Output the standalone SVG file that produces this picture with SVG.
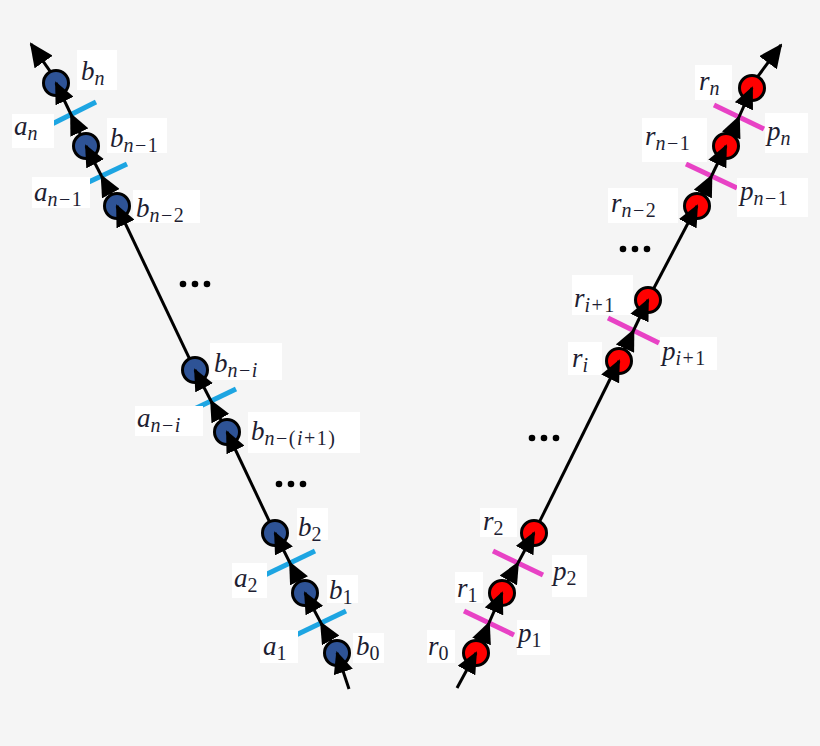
<svg xmlns="http://www.w3.org/2000/svg" width="820" height="746" viewBox="0 0 820 746">
<style>
.bn{fill:#2e5396;stroke:#000;stroke-width:3}
.rn{fill:#ff0000;stroke:#000;stroke-width:3}
.bt{stroke:#1da5e2;stroke-width:5}
.pt{stroke:#e842c5;stroke-width:5}
.lb{fill:#fff}
.tx{font-family:'Liberation Serif','DejaVu Serif',serif;font-size:27px;font-style:italic;fill:#1e1e32}
.s{font-size:20px;letter-spacing:1.5px}
.u{font-style:normal}
.c{stroke:#000;stroke-width:3;fill:none;marker-end:url(#ah)}
.t{stroke:#000;stroke-width:3;fill:none;marker-end:url(#ahb)}
.d{fill:#000}
</style>
<defs>
<marker id="ah" markerUnits="userSpaceOnUse" viewBox="0 0 22 20" refX="20" refY="10" markerWidth="22" markerHeight="20" orient="auto">
<path d="M0,0 L22,10 L0,20 z" fill="#000"/>
</marker>
<marker id="ahb" markerUnits="userSpaceOnUse" viewBox="0 0 24 22" refX="22" refY="11" markerWidth="24" markerHeight="22" orient="auto">
<path d="M0,0 L24,11 L0,22 z" fill="#000"/>
</marker>
</defs>
<rect width="820" height="746" fill="#f5f5f5"/>

<g id="nodes">
<g id="b0"><circle class="bn" cx="337" cy="653" r="12.5"/><rect class="lb" x="353" y="633" width="31" height="30"/><text class="tx" x="356" y="655">b<tspan class="s u" dy="5">0</tspan></text></g>
<g id="a1"><line class="bt" x1="296" y1="635" x2="346" y2="611"/><rect class="lb" x="260" y="630" width="38" height="33"/><text class="tx" x="263" y="655">a<tspan class="s u" dy="5">1</tspan></text></g>
<g id="b1"><circle class="bn" cx="305" cy="593" r="12.5"/><rect class="lb" x="327" y="575" width="31" height="28"/><text class="tx" x="329" y="599">b<tspan class="s u" dy="5">1</tspan></text></g>
<g id="a2"><line class="bt" x1="265" y1="575" x2="315" y2="551"/><rect class="lb" x="232" y="563" width="35" height="35"/><text class="tx" x="234" y="587">a<tspan class="s u" dy="5">2</tspan></text></g>
<g id="b2"><circle class="bn" cx="275" cy="533" r="12.5"/><rect class="lb" x="297" y="508" width="31" height="32"/><text class="tx" x="298" y="536">b<tspan class="s u" dy="5">2</tspan></text></g>
<g id="b_n-i-1"><circle class="bn" cx="227" cy="432" r="12.5"/><rect class="lb" x="248" y="412" width="112" height="41"/><text class="tx" x="251" y="440">b<tspan class="s" dy="5">n<tspan class="u">−(</tspan>i<tspan class="u">+1)</tspan></tspan></text></g>
<g id="a_n-i"><line class="bt" x1="186" y1="413" x2="236" y2="389"/><rect class="lb" x="135" y="406" width="68" height="30"/><text class="tx" x="137" y="427">a<tspan class="s" dy="5">n<tspan class="u">−</tspan>i</tspan></text></g>
<g id="b_n-i"><circle class="bn" cx="195" cy="370" r="12.5"/><rect class="lb" x="210" y="343" width="72" height="37"/><text class="tx" x="214" y="372">b<tspan class="s" dy="5">n<tspan class="u">−</tspan>i</tspan></text></g>
<g id="b_n-2"><circle class="bn" cx="117" cy="206" r="12.5"/><rect class="lb" x="133" y="190" width="67" height="33"/><text class="tx" x="136" y="217">b<tspan class="s" dy="5">n<tspan class="u">−2</tspan></tspan></text></g>
<g id="a_n-1"><line class="bt" x1="76" y1="188" x2="127" y2="164"/><rect class="lb" x="32" y="177" width="58" height="31"/><text class="tx" x="34" y="201">a<tspan class="s" dy="5">n<tspan class="u">−1</tspan></tspan></text></g>
<g id="b_n-1"><circle class="bn" cx="86" cy="146" r="12.5"/><rect class="lb" x="107" y="118" width="60" height="35"/><text class="tx" x="110" y="147">b<tspan class="s" dy="5">n<tspan class="u">−1</tspan></tspan></text></g>
<g id="a_n"><line class="bt" x1="46" y1="127" x2="96" y2="102"/><rect class="lb" x="12" y="114" width="42" height="34"/><text class="tx" x="14" y="135">a<tspan class="s" dy="5">n</tspan></text></g>
<g id="b_n"><circle class="bn" cx="56" cy="83" r="12.5"/><rect class="lb" x="77" y="50" width="40" height="40"/><text class="tx" x="81" y="80">b<tspan class="s" dy="5">n</tspan></text></g>

<g id="r0"><circle class="rn" cx="476" cy="653" r="12.5"/><rect class="lb" x="427" y="630" width="28" height="33"/><text class="tx" x="428" y="655">r<tspan class="s u" dy="5">0</tspan></text></g>
<g id="p1"><line class="pt" x1="464" y1="611" x2="514" y2="635"/><rect class="lb" x="517" y="620" width="33" height="35"/><text class="tx" x="518" y="642">p<tspan class="s u" dy="5">1</tspan></text></g>
<g id="r1"><circle class="rn" cx="502" cy="593" r="12.5"/><rect class="lb" x="455" y="572" width="28" height="31"/><text class="tx" x="457" y="597">r<tspan class="s u" dy="5">1</tspan></text></g>
<g id="p2"><line class="pt" x1="493" y1="551" x2="543" y2="575"/><rect class="lb" x="552" y="555" width="35" height="42"/><text class="tx" x="553" y="580">p<tspan class="s u" dy="5">2</tspan></text></g>
<g id="r2"><circle class="rn" cx="534" cy="533" r="12.5"/><rect class="lb" x="480" y="508" width="37" height="29"/><text class="tx" x="483" y="530">r<tspan class="s u" dy="5">2</tspan></text></g>
<g id="r_i"><circle class="rn" cx="619" cy="361" r="12.5"/><rect class="lb" x="568" y="342" width="34" height="33"/><text class="tx" x="572" y="367">r<tspan class="s" dy="5">i</tspan></text></g>
<g id="p_i+1"><line class="pt" x1="608" y1="318" x2="659" y2="343"/><rect class="lb" x="660" y="337" width="57" height="33"/><text class="tx" x="662" y="360">p<tspan class="s" dy="5">i<tspan class="u">+1</tspan></tspan></text></g>
<g id="r_i+1"><circle class="rn" cx="648" cy="300" r="12.5"/><rect class="lb" x="572" y="275" width="61" height="40"/><text class="tx" x="574" y="307">r<tspan class="s" dy="5">i<tspan class="u">+1</tspan></tspan></text></g>
<g id="r_n-2"><circle class="rn" cx="697" cy="206" r="12.5"/><rect class="lb" x="608" y="188" width="70" height="35"/><text class="tx" x="611" y="212">r<tspan class="s" dy="5">n<tspan class="u">−2</tspan></tspan></text></g>
<g id="p_n-1"><line class="pt" x1="686" y1="164" x2="737" y2="188"/><rect class="lb" x="737" y="178" width="71" height="39"/><text class="tx" x="740" y="200">p<tspan class="s" dy="5">n<tspan class="u">−1</tspan></tspan></text></g>
<g id="r_n-1"><circle class="rn" cx="726" cy="146" r="12.5"/><rect class="lb" x="642" y="118" width="65" height="44"/><text class="tx" x="645" y="145">r<tspan class="s" dy="5">n<tspan class="u">−1</tspan></tspan></text></g>
<g id="p_n"><line class="pt" x1="714" y1="105" x2="764" y2="129"/><rect class="lb" x="765" y="113" width="43" height="40"/><text class="tx" x="767" y="140">p<tspan class="s" dy="5">n</tspan></text></g>
<g id="r_n"><circle class="rn" cx="752" cy="88" r="12.5"/><rect class="lb" x="695" y="65" width="37" height="35"/><text class="tx" x="699" y="90">r<tspan class="s" dy="5">n</tspan></text></g>

<g id="dots">
<circle class="d" cx="183" cy="284" r="3.3"/><circle class="d" cx="195" cy="284" r="3.3"/><circle class="d" cx="207" cy="284" r="3.3"/>
<circle class="d" cx="279" cy="484" r="3.3"/><circle class="d" cx="291" cy="484" r="3.3"/><circle class="d" cx="303" cy="484" r="3.3"/>
<circle class="d" cx="532" cy="438" r="3.3"/><circle class="d" cx="544" cy="438" r="3.3"/><circle class="d" cx="556" cy="438" r="3.3"/>
<circle class="d" cx="623" cy="249" r="3.3"/><circle class="d" cx="635" cy="249" r="3.3"/><circle class="d" cx="647" cy="249" r="3.3"/>
</g>
</g>

<g id="connectors">
<line class="c" x1="349" y1="689" x2="337" y2="653"/>
<line class="c" x1="331.7" y1="642.2" x2="321" y2="623"/>
<line class="c" x1="321" y1="623" x2="305" y2="593"/>
<line class="c" x1="299.7" y1="582.2" x2="290" y2="563"/>
<line class="c" x1="290" y1="563" x2="275" y2="533"/>
<line class="c" x1="269.7" y1="522.2" x2="227" y2="432"/>
<line class="c" x1="221.7" y1="421.2" x2="211" y2="401"/>
<line class="c" x1="211" y1="401" x2="195" y2="370"/>
<line class="c" x1="189.7" y1="359.2" x2="117" y2="206"/>
<line class="c" x1="111.7" y1="195.2" x2="101.5" y2="176"/>
<line class="c" x1="101.5" y1="176" x2="86" y2="146"/>
<line class="c" x1="80.7" y1="135.2" x2="71" y2="114.5"/>
<line class="c" x1="71" y1="114.5" x2="56" y2="83"/>
<line class="t" x1="50.7" y1="72.2" x2="31" y2="44"/>

<line class="c" x1="457" y1="688" x2="476" y2="653"/>
<line class="c" x1="481.3" y1="642.2" x2="489" y2="623"/>
<line class="c" x1="489" y1="623" x2="502" y2="593"/>
<line class="c" x1="507.3" y1="582.2" x2="518" y2="563"/>
<line class="c" x1="518" y1="563" x2="534" y2="533"/>
<line class="c" x1="539.3" y1="522.2" x2="619" y2="361"/>
<line class="c" x1="624.3" y1="350.2" x2="633.5" y2="330.5"/>
<line class="c" x1="633.5" y1="330.5" x2="648" y2="300"/>
<line class="c" x1="653.3" y1="289.2" x2="697" y2="206"/>
<line class="c" x1="702.3" y1="195.2" x2="711.5" y2="176"/>
<line class="c" x1="711.5" y1="176" x2="726" y2="146"/>
<line class="c" x1="731.3" y1="135.2" x2="739" y2="117"/>
<line class="c" x1="739" y1="117" x2="752" y2="88"/>
<line class="t" x1="757.3" y1="77.2" x2="781" y2="45"/>
</g>
</svg>
